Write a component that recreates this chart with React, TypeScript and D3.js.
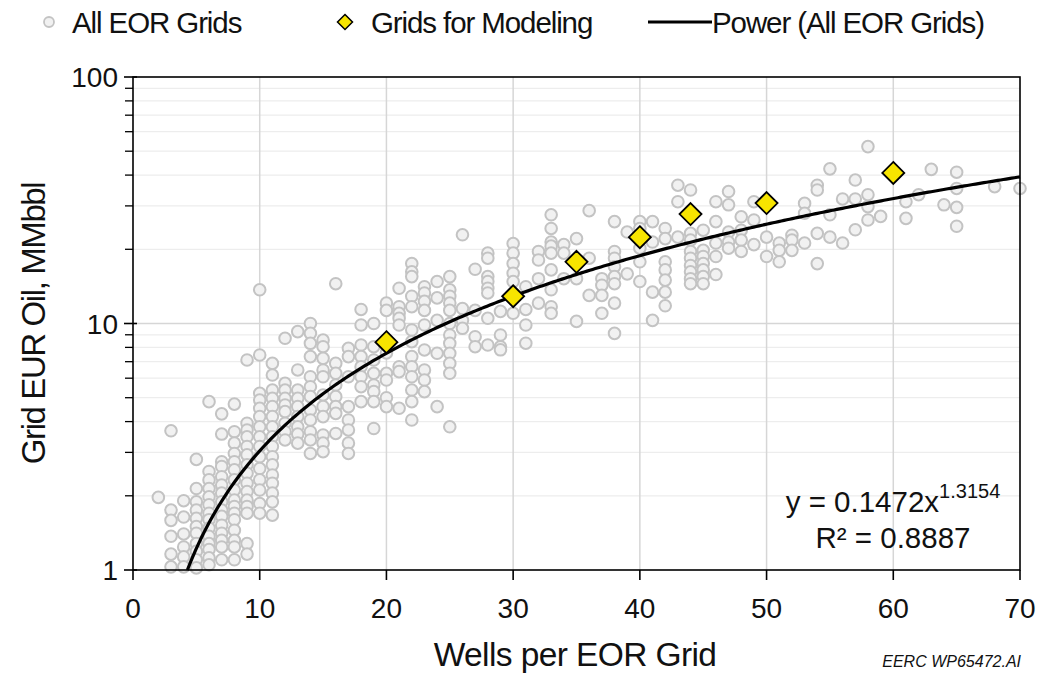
import React from 'react';
import * as d3 from 'd3';

// All EOR grids: [wells per grid, EUR oil values (MMbbl) at that well count]
const allGridColumns: [number, number[]][] = [
  [2, [1.97]],
  [3, [3.67, 1.75, 1.59, 1.37, 1.16, 1.03]],
  [4, [1.91, 1.64, 1.4, 1.24, 1.13, 1.03]],
  [5, [2.81, 2.14, 1.89, 1.75, 1.62, 1.5, 1.41, 1.28, 1.19, 1.1, 1.02]],
  [6, [4.82, 2.51, 2.32, 2.14, 1.98, 1.84, 1.7, 1.6, 1.48, 1.37, 1.28, 1.21, 1.12, 1.05]],
  [7, [4.3, 3.56, 2.75, 2.63, 2.39, 2.21, 2.05, 1.89, 1.75, 1.65, 1.52, 1.41, 1.32, 1.24, 1.1]],
  [8, [4.71, 3.64, 3.27, 2.97, 2.75, 2.55, 2.32, 2.11, 1.92, 1.81, 1.7, 1.6, 1.45, 1.32, 1.24, 1.1]],
  [9, [7.11, 3.94, 3.7, 3.47, 3.17, 2.93, 2.67, 2.47, 2.25, 2.08, 1.92, 1.81, 1.7, 1.28, 1.16]],
  [10, [13.7, 7.45, 5.21, 4.89, 4.53, 4.19, 3.81, 3.47, 3.17, 2.88, 2.58, 2.32, 2.11, 1.86, 1.7]],
  [11, [6.89, 6.18, 5.37, 4.97, 4.6, 4.19, 3.81, 3.47, 3.17, 2.88, 2.67, 2.43, 2.25, 2.05, 1.89, 1.67]],
  [12, [8.71, 5.72, 5.37, 4.97, 4.67, 4.39, 3.94, 3.64, 3.37]],
  [13, [9.27, 6.48, 5.37, 4.97, 4.6, 4.19, 3.81, 3.56, 3.27]],
  [14, [10.0, 9.12, 8.31, 7.34, 6.08, 5.54, 5.05, 4.46, 4.06, 3.64, 3.37, 2.97]],
  [15, [8.57, 8.05, 7.22, 6.48, 6.08, 5.13, 4.6, 4.19, 3.53, 3.27, 3.02]],
  [16, [14.5, 6.89, 6.28, 5.63, 5.05, 4.6, 4.32, 3.58]],
  [17, [7.93, 7.34, 6.08, 4.6, 4.06, 3.7, 3.27, 2.97]],
  [18, [11.4, 9.86, 8.18, 7.34, 6.68, 6.08, 5.54, 4.82]],
  [19, [10.0, 8.05, 7.11, 6.28, 5.63, 5.29, 4.82, 3.75]],
  [20, [12.1, 11.3, 8.6, 7.6, 6.28, 5.9, 5.0, 4.6]],
  [21, [13.9, 11.7, 11.0, 10.5, 9.86, 6.68, 6.38, 4.53]],
  [22, [17.5, 16.2, 15.5, 12.9, 11.7, 9.41, 8.44, 7.34, 6.68, 6.08, 5.37, 4.82, 4.06]],
  [23, [14.1, 13.3, 12.3, 11.3, 9.86, 7.81, 6.48, 5.9, 5.29]],
  [24, [14.8, 12.7, 10.3, 7.57, 4.6]],
  [25, [15.5, 13.7, 12.9, 12.1, 11.3, 10.0, 8.98, 8.31, 7.57, 6.89, 6.28, 3.81]],
  [26, [22.9, 11.5, 10.3, 9.56]],
  [27, [16.6, 11.3, 8.84, 8.05]],
  [28, [19.3, 18.4, 15.5, 14.8, 13.9, 13.3, 10.5, 8.18]],
  [29, [11.2, 8.98, 8.05, 7.82]],
  [30, [21.1, 19.3, 17.5, 16.0, 14.8, 11.0]],
  [31, [14.1, 11.4, 9.86, 8.32]],
  [32, [19.6, 18.1, 15.2, 12.1]],
  [33, [27.6, 24.3, 21.4, 20.6, 19.3, 16.5, 13.7, 11.7, 11.0]],
  [34, [20.9, 19.3, 15.2]],
  [35, [22.1, 15.2, 10.2]],
  [36, [28.7, 18.4, 13.0]],
  [37, [15.2, 14.3, 13.0, 11.0]],
  [38, [25.9, 19.6, 18.4, 17.0, 15.5, 14.5, 12.1, 9.12]],
  [39, [23.5, 15.9]],
  [40, [25.9, 24.3, 20.2, 17.8, 14.8]],
  [41, [25.9, 21.4, 13.4, 10.3]],
  [42, [24.3, 22.1, 17.8, 16.5, 15.0, 13.4, 11.8]],
  [43, [36.4, 31.2, 22.4]],
  [44, [34.8, 23.2, 21.8, 19.6, 18.4, 17.2, 16.2, 15.2, 14.5]],
  [45, [23.9, 19.8, 18.7, 17.5, 16.5, 15.5, 14.5]],
  [46, [31.2, 25.9, 21.2, 18.7, 15.8]],
  [47, [34.3, 30.3, 23.5, 21.4, 20.2]],
  [48, [27.1, 23.9, 21.8, 19.6]],
  [49, [31.2, 26.3, 20.9]],
  [50, [22.4, 18.7]],
  [51, [21.2, 19.8, 17.8]],
  [52, [22.8, 21.8, 19.8]],
  [53, [30.7, 28.0, 21.2]],
  [54, [36.4, 34.8, 23.2, 17.5]],
  [55, [42.4, 27.6, 22.4]],
  [56, [32.0, 21.2]],
  [57, [38.2, 32.0, 24.0]],
  [58, [52.2, 33.3, 29.8, 26.3]],
  [59, [27.2]],
  [61, [31.2, 26.7]],
  [62, [33.3]],
  [63, [42.2]],
  [64, [30.3]],
  [65, [41.1, 35.3, 29.6, 24.8]],
  [68, [35.9]],
  [70, [35.3]],
];

// Grids for modeling
const modelWells = [20, 30, 35, 40, 44, 50, 60];
const modelEur = [8.4, 12.9, 17.8, 22.4, 27.8, 30.8, 40.8];

// Power trendline (All EOR Grids): y = a * x^b
const fitCoef = 0.1472;
const fitExp = 1.3154;
const fitR2 = '0.8887';

const xTicks = [0, 10, 20, 30, 40, 50, 60, 70];
const yTicks = [1, 10, 100];

const FONT = "'Liberation Sans', Arial, Helvetica, sans-serif";

export default function App() {
  const left = 133, right = 1020, top = 77, bottom = 570;
  const x = d3.scaleLinear().domain([0, 70]).range([left, right]);
  const y = d3.scaleLog().domain([1, 100]).range([bottom, top]);

  const points: [number, number][] = allGridColumns.flatMap(([w, vals]) =>
    vals.map((v) => [w, v] as [number, number])
  );

  const xStart = Math.pow(1 / fitCoef, 1 / fitExp);
  const fitPts: [number, number][] = d3.range(0, 301).map((i) => {
    const xv = xStart + ((70 - xStart) * i) / 300;
    return [xv, fitCoef * Math.pow(xv, fitExp)];
  });
  const line = d3
    .line<[number, number]>()
    .x((d) => x(d[0]))
    .y((d) => y(d[1]));

  const minorVals: number[] = [];
  [1, 10].forEach((dec) => {
    for (let k = 2; k <= 9; k++) minorVals.push(k * dec);
  });

  const diamond = (r: number) => `M0,${-r}L${r},0L0,${r}L${-r},0Z`;
  const circleFill = '#f1f1f1';
  const circleStroke = '#c3c3c3';
  const yellow = '#f7e400';

  return (
    <svg
      width={1040}
      height={674}
      style={{ position: 'absolute', left: 0, top: 0, background: '#fff' }}
      fontFamily={FONT}
    >
      <rect x={0} y={0} width={1040} height={674} fill="#fff" />
      {/* minor horizontal grid */}
      {minorVals.map((v) => (
        <line key={'mg' + v} x1={left} x2={right} y1={y(v)} y2={y(v)} stroke="#ededed" strokeWidth={1.2} />
      ))}
      {/* major horizontal grid */}
      <line x1={left} x2={right} y1={y(10)} y2={y(10)} stroke="#d6d6d6" strokeWidth={1.5} />
      {/* vertical grid */}
      {xTicks.slice(1, -1).map((t) => (
        <line key={'vg' + t} x1={x(t)} x2={x(t)} y1={top} y2={bottom} stroke="#d6d6d6" strokeWidth={1.5} />
      ))}

      {/* scatter: all EOR grids */}
      {points.map((p, i) => (
        <circle key={'p' + i} cx={x(p[0])} cy={y(p[1])} r={5.8} fill={circleFill} stroke={circleStroke} strokeWidth={2} />
      ))}

      {/* power trendline */}
      <path d={line(fitPts) || ''} fill="none" stroke="#000" strokeWidth={3.2} />

      {/* grids for modeling */}
      {modelWells.map((w, i) => (
        <path
          key={'m' + i}
          d={diamond(11)}
          transform={`translate(${x(w)},${y(modelEur[i])})`}
          fill={yellow}
          stroke="#000"
          strokeWidth={1.8}
        />
      ))}

      {/* frame */}
      <rect x={left} y={top} width={right - left} height={bottom - top} fill="none" stroke="#000" strokeWidth={1.6} />

      {/* x ticks */}
      {xTicks.map((t) => (
        <g key={'xt' + t}>
          <line x1={x(t)} x2={x(t)} y1={bottom} y2={bottom + 10} stroke="#000" strokeWidth={1.6} />
          <text x={x(t)} y={618} textAnchor="middle" fontSize={28} fill="#111">
            {t}
          </text>
        </g>
      ))}
      {/* y ticks */}
      {minorVals.map((v) => (
        <line key={'ym' + v} x1={left - 8} x2={left} y1={y(v)} y2={y(v)} stroke="#000" strokeWidth={1.3} />
      ))}
      {yTicks.map((t) => (
        <g key={'yt' + t}>
          <line x1={left - 9} x2={left + 4} y1={y(t)} y2={y(t)} stroke="#000" strokeWidth={1.6} />
          <text x={left - 15} y={y(t) + 10} textAnchor="end" fontSize={28} fill="#111">
            {t}
          </text>
        </g>
      ))}

      {/* axis titles */}
      <text x={575} y={666} textAnchor="middle" fontSize={33.5} fill="#111" letterSpacing={-0.6}>
        Wells per EOR Grid
      </text>
      <text
        transform={`translate(45,${(top + bottom) / 2}) rotate(-90)`}
        textAnchor="middle"
        fontSize={33}
        fill="#111"
        letterSpacing={-1.4}
      >
        Grid EUR Oil, MMbbl
      </text>

      {/* equation */}
      <text x={893} y={512} textAnchor="middle" fontSize={29.5} fill="#111">
        <tspan>y = {fitCoef}x</tspan>
        <tspan fontSize={20} dy={-14}>{fitExp}</tspan>
      </text>
      <text x={893} y={548} textAnchor="middle" fontSize={29.5} fill="#111">
        R² = {fitR2}
      </text>

      {/* credit */}
      <text x={1021} y={667} textAnchor="end" fontSize={16} fontStyle="italic" fill="#111">
        EERC WP65472.AI
      </text>

      {/* legend */}
      <g fontSize={29.5} fill="#111" letterSpacing={-1.1}>
        <circle cx={49} cy={22} r={5} fill={circleFill} stroke={circleStroke} strokeWidth={1.8} />
        <text x={72} y={33}>All EOR Grids</text>
        <path d={diamond(7.5)} transform="translate(345,22)" fill={yellow} stroke="#000" strokeWidth={1.5} />
        <text x={371} y={33}>Grids for Modeling</text>
        <line x1={648} x2={712} y1={22} y2={22} stroke="#000" strokeWidth={3} />
        <text x={712} y={33}>Power (All EOR Grids)</text>
      </g>
    </svg>
  );
}
